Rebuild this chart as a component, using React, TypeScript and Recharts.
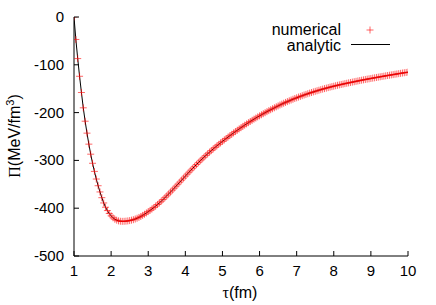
import React from 'react';
import { ComposedChart, Line, XAxis, YAxis, Customized } from 'recharts';

// tau grid (fm): 1.00 .. 10.00, step 0.05
const tauStart = 1;
const tauStep = 0.05;

// Π (MeV/fm^3), one value per tau grid point
const piNumerical = [
  0, -47, -87, -124, -158, -190, -218, -243, -266, -287,
  -306, -323, -339, -353, -366, -378, -389, -398, -405, -411,
  -416, -420, -423, -425, -426.5, -427.3, -427.5, -427.4, -427.1, -426.6,
  -425.9, -425, -424, -422.6, -421, -419.3, -417.3, -415, -412.6, -410,
  -407.2, -404.5, -401.7, -398.7, -395.6, -392.3, -388.9, -385.4, -381.8, -378.0,
  -374.2, -370.2, -366.2, -362.2, -358.1, -353.9, -349.7, -345.5, -341.3, -337.1,
  -332.9, -328.7, -324.6, -320.5, -316.5, -312.5, -308.6, -304.7, -300.9, -297.2,
  -293.5, -289.9, -286.3, -282.9, -279.5, -276.1, -272.8, -269.6, -266.4, -263.3,
  -260.2, -257.2, -254.2, -251.2, -248.3, -245.4, -242.5, -239.7, -236.9, -234.2,
  -231.5, -228.8, -226.2, -223.6, -221.1, -218.6, -216.1, -213.7, -211.4, -209.0,
  -206.8, -204.5, -202.3, -200.2, -198.0, -195.9, -193.9, -191.9, -189.9, -187.9,
  -186.0, -184.1, -182.3, -180.5, -178.7, -177.0, -175.3, -173.7, -172.1, -170.5,
  -169.0, -167.5, -166.1, -164.6, -163.2, -161.9, -160.5, -159.2, -158.0, -156.7,
  -155.5, -154.3, -153.2, -152.0, -150.9, -149.8, -148.8, -147.7, -146.7, -145.7,
  -144.8, -143.8, -142.9, -142.0, -141.1, -140.3, -139.4, -138.6, -137.8, -137.0,
  -136.2, -135.4, -134.6, -133.8, -133.0, -132.2, -131.5, -130.7, -130.0, -129.3,
  -128.6, -127.9, -127.2, -126.5, -125.8, -125.1, -124.4, -123.8, -123.1, -122.4,
  -121.8, -121.1, -120.5, -119.8, -119.2, -118.5, -117.9, -117.2, -116.6, -116.0,
  -115.4,
];
// analytic curve coincides with the numerical points
const piAnalytic = piNumerical;

const xTicks = [1, 2, 3, 4, 5, 6, 7, 8, 9, 10];
const yTicks = [0, -100, -200, -300, -400, -500];

const data = piNumerical.map((v, i) => ({
  tau: +(tauStart + i * tauStep).toFixed(2),
  numerical: v,
  analytic: piAnalytic[i],
}));

const FONT = '"Liberation Sans", Arial, sans-serif';
const TICK_LEN = 5;

const BottomTick = (props: any) => {
  const { x, y, payload } = props;
  return (
    <g>
      <line x1={x} x2={x} y1={y} y2={y - TICK_LEN} stroke="#000" strokeWidth={1} />
      <text x={x} y={y + 20} textAnchor="middle" fontFamily={FONT} fontSize={15} fill="#000">
        {payload.value}
      </text>
    </g>
  );
};
const TopTick = (props: any) => {
  const { x, y } = props;
  return <line x1={x} x2={x} y1={y} y2={y + TICK_LEN} stroke="#000" strokeWidth={1} />;
};
const LeftTick = (props: any) => {
  const { x, y, payload } = props;
  return (
    <g>
      <line x1={x} x2={x + TICK_LEN} y1={y} y2={y} stroke="#000" strokeWidth={1} />
      <text x={x - 10} y={y + 5} textAnchor="end" fontFamily={FONT} fontSize={15} fill="#000">
        {payload.value}
      </text>
    </g>
  );
};
const RightTick = (props: any) => {
  const { x, y } = props;
  return <line x1={x} x2={x - TICK_LEN} y1={y} y2={y} stroke="#000" strokeWidth={1} />;
};

const PlusDot = (props: any) => {
  const { cx, cy, index } = props;
  if (cx == null || cy == null) return <g key={`p-${index}`} />;
  const s = 3.5;
  return (
    <path
      key={`p-${index}`}
      d={`M${cx - s},${cy}H${cx + s}M${cx},${cy - s}V${cy + s}`}
      stroke="#ff0000"
      strokeOpacity={0.6}
      strokeWidth={1}
      fill="none"
    />
  );
};

const Extras = () => (
  <g fontFamily={FONT} fill="#000">
    <text x={341} y={35} textAnchor="end" fontSize={16}>numerical</text>
    <path d="M366.5,30H373.5M370,26.5V33.5" stroke="#ff0000" strokeOpacity={0.6} strokeWidth={1} />
    <text x={341} y={51} textAnchor="end" fontSize={16}>analytic</text>
    <line x1={351} x2={390} y1={44.5} y2={44.5} stroke="#000" strokeWidth={1} />
    <text x={240} y={298} textAnchor="middle" fontSize={16}>
      <tspan fontFamily="'Liberation Serif', serif">τ</tspan>(fm)
    </text>
    <text x={15} y={136} textAnchor="middle" fontSize={16} transform="rotate(-90, 15, 136)" dy={5}>
      <tspan fontFamily="'Liberation Serif', serif">Π</tspan>(MeV/fm
      <tspan fontSize={11} dy={-6}>3</tspan>
      <tspan dy={6}>)</tspan>
    </text>
  </g>
);

export default function App() {
  return (
    <div style={{ position: 'absolute', left: 0, top: 0, width: 436, height: 305, background: '#fff' }}>
      <ComposedChart
        width={436}
        height={305}
        data={data}
        margin={{ top: 17, right: 28, bottom: 0, left: 0 }}
      >
        <XAxis
          xAxisId="b"
          dataKey="tau"
          type="number"
          domain={[1, 10]}
          ticks={xTicks}
          interval={0}
          height={49}
          tickSize={0}
          tickMargin={0}
          tickLine={false}
          axisLine={{ stroke: '#000', strokeWidth: 1 }}
          tick={<BottomTick />}
          allowDataOverflow
        />
        <XAxis
          xAxisId="t"
          orientation="top"
          type="number"
          domain={[1, 10]}
          ticks={xTicks}
          interval={0}
          height={0}
          tickSize={0}
          tickMargin={0}
          tickLine={false}
          axisLine={{ stroke: '#000', strokeWidth: 1 }}
          tick={<TopTick />}
          allowDataOverflow
        />
        <YAxis
          yAxisId="l"
          type="number"
          domain={[-500, 0]}
          ticks={yTicks}
          interval={0}
          width={74}
          tickSize={0}
          tickMargin={0}
          tickLine={false}
          axisLine={{ stroke: '#000', strokeWidth: 1 }}
          tick={<LeftTick />}
          allowDataOverflow
        />
        <YAxis
          yAxisId="r"
          orientation="right"
          type="number"
          domain={[-500, 0]}
          ticks={yTicks}
          interval={0}
          width={0}
          tickSize={0}
          tickMargin={0}
          tickLine={false}
          axisLine={{ stroke: '#000', strokeWidth: 1 }}
          tick={<RightTick />}
          allowDataOverflow
        />
        <Line
          xAxisId="b"
          yAxisId="l"
          dataKey="numerical"
          stroke="none"
          dot={<PlusDot />}
          activeDot={false}
          isAnimationActive={false}
        />
        <Line
          xAxisId="b"
          yAxisId="l"
          dataKey="analytic"
          type="linear"
          stroke="#000"
          strokeWidth={1}
          dot={false}
          activeDot={false}
          isAnimationActive={false}
        />
        <Customized component={<Extras />} />
      </ComposedChart>
    </div>
  );
}
